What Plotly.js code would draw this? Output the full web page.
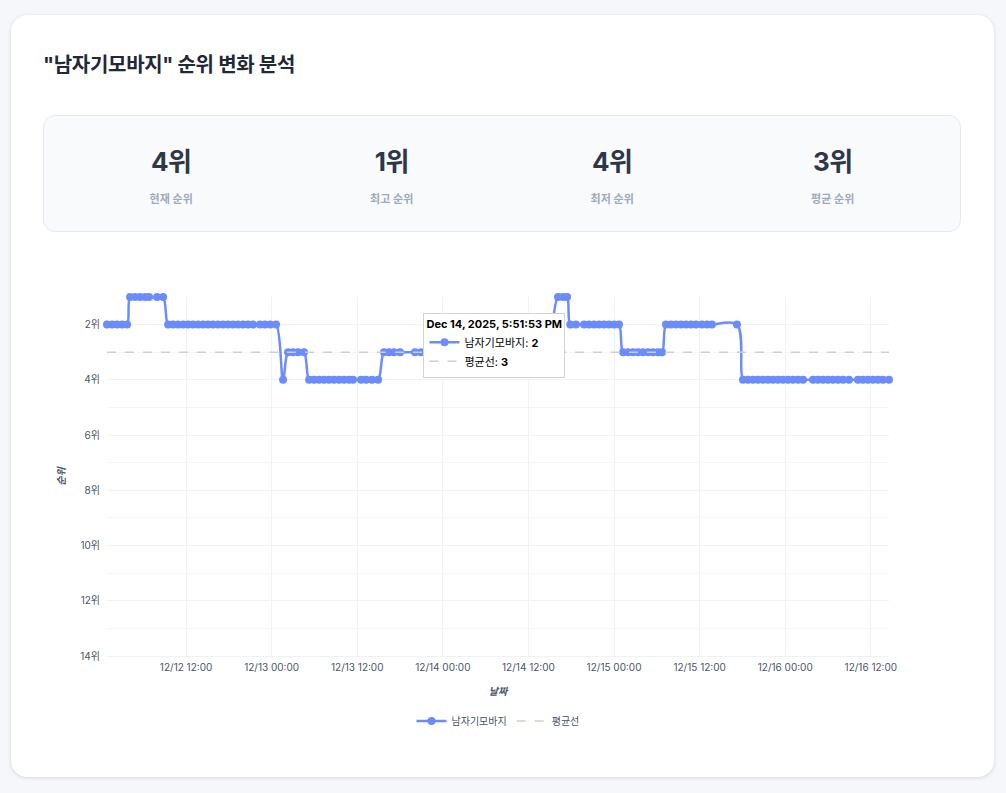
<!DOCTYPE html>
<html lang="ko">
<head>
<meta charset="utf-8">
<script src="https://cdn.plot.ly/plotly-3.0.1.min.js"></script>
<style>
  html, body { margin: 0; padding: 0; }
  body {
    width: 1006px; height: 793px; background: #f5f7fa; position: relative; overflow: hidden;
    font-family: Inter, "Noto Sans CJK KR", "Noto Sans", sans-serif;
  }
  .card {
    position: absolute; left: 11px; top: 15px; width: 983px; height: 762px;
    background: #ffffff; border-radius: 16px;
    box-shadow: 0 1px 4px rgba(0,0,0,0.12), 0 0 1px rgba(0,0,0,0.08);
  }
  h1 {
    position: absolute; left: 32px; top: 34px; margin: 0;
    font-size: 20px; font-weight: 700; color: #1f2937; letter-spacing: -0.3px;
  }
  .stats {
    position: absolute; left: 32px; top: 100px; width: 918px; height: 117px;
    background: #f8fafc; border: 1px solid #e5e9f0; border-radius: 12px;
    display: flex; padding: 0 17px; box-sizing: border-box;
  }
  .stat { flex: 1; text-align: center; }
  .stat .v { margin-top: 29px; font-size: 26px; font-weight: 700; color: #2d3748; line-height: 34px; letter-spacing: -0.5px; }
  .stat .l { margin-top: 11px; font-size: 11px; font-weight: 600; color: #a0aab8; }
  #chart { position: absolute; left: 32px; top: 235px; width: 918px; height: 510px; }
</style>
</head>
<body>
<div class="card">
  <h1>"남자기모바지" 순위 변화 분석</h1>
  <div class="stats">
    <div class="stat"><div class="v" id="s0"></div><div class="l">현재 순위</div></div>
    <div class="stat"><div class="v" id="s1"></div><div class="l">최고 순위</div></div>
    <div class="stat"><div class="v" id="s2"></div><div class="l">최저 순위</div></div>
    <div class="stat"><div class="v" id="s3"></div><div class="l">평균 순위</div></div>
  </div>
  <div id="chart"></div>
</div>
<script>
// ---- data ----
const keyword = "남자기모바지";
const times = [
  "2025-12-12 00:55","2025-12-12 01:38","2025-12-12 02:20","2025-12-12 03:02","2025-12-12 03:44",
  "2025-12-12 04:09","2025-12-12 04:51","2025-12-12 05:33","2025-12-12 06:15","2025-12-12 06:49",
  "2025-12-12 07:56","2025-12-12 08:47",
  "2025-12-12 09:29","2025-12-12 10:11","2025-12-12 10:53","2025-12-12 11:35","2025-12-12 12:17","2025-12-12 12:59",
  "2025-12-12 13:41","2025-12-12 14:23","2025-12-12 15:05","2025-12-12 15:47","2025-12-12 16:29","2025-12-12 17:11",
  "2025-12-12 17:53","2025-12-12 18:35","2025-12-12 19:17","2025-12-12 19:59","2025-12-12 20:41","2025-12-12 21:24",
  "2025-12-12 22:22","2025-12-12 23:04","2025-12-12 23:47","2025-12-13 00:37",
  "2025-12-13 01:36",
  "2025-12-13 02:18","2025-12-13 03:00","2025-12-13 03:42","2025-12-13 04:32",
  "2025-12-13 05:15","2025-12-13 05:57","2025-12-13 06:39","2025-12-13 07:21","2025-12-13 08:03","2025-12-13 08:45",
  "2025-12-13 09:27","2025-12-13 10:09","2025-12-13 10:51","2025-12-13 11:25",
  "2025-12-13 12:32","2025-12-13 13:14","2025-12-13 14:04","2025-12-13 14:55",
  "2025-12-13 15:45","2025-12-13 16:27","2025-12-13 17:09","2025-12-13 18:00",
  "2025-12-13 20:06","2025-12-13 20:57",
  "2025-12-13 21:47","2025-12-13 22:29","2025-12-13 23:11","2025-12-13 23:53","2025-12-14 00:35","2025-12-14 01:17",
  "2025-12-14 01:59","2025-12-14 02:41","2025-12-14 03:24","2025-12-14 04:06","2025-12-14 04:48","2025-12-14 05:30",
  "2025-12-14 06:12","2025-12-14 06:54","2025-12-14 07:36","2025-12-14 08:18","2025-12-14 09:00","2025-12-14 09:42",
  "2025-12-14 10:24","2025-12-14 11:06","2025-12-14 11:48","2025-12-14 12:30","2025-12-14 13:12","2025-12-14 13:54",
  "2025-12-14 14:36",
  "2025-12-14 16:09","2025-12-14 16:51","2025-12-14 17:25",
  "2025-12-14 17:51:53","2025-12-14 18:40",
  "2025-12-14 19:48","2025-12-14 20:30","2025-12-14 21:12","2025-12-14 21:54","2025-12-14 22:36","2025-12-14 23:18",
  "2025-12-15 00:00","2025-12-15 00:42",
  "2025-12-15 01:16","2025-12-15 01:58","2025-12-15 02:40","2025-12-15 03:22","2025-12-15 04:04","2025-12-15 04:46",
  "2025-12-15 05:28","2025-12-15 06:10","2025-12-15 06:44",
  "2025-12-15 07:17","2025-12-15 07:59","2025-12-15 08:41","2025-12-15 09:23","2025-12-15 10:06","2025-12-15 10:48",
  "2025-12-15 11:30","2025-12-15 12:20","2025-12-15 13:02","2025-12-15 13:44",
  "2025-12-15 17:14",
  "2025-12-15 18:05","2025-12-15 18:47","2025-12-15 19:29","2025-12-15 20:11","2025-12-15 20:53","2025-12-15 21:35",
  "2025-12-15 22:17","2025-12-15 22:59","2025-12-15 23:41","2025-12-16 00:23","2025-12-16 01:05","2025-12-16 01:48",
  "2025-12-16 02:30",
  "2025-12-16 03:54","2025-12-16 04:36","2025-12-16 05:18","2025-12-16 06:00","2025-12-16 06:42","2025-12-16 07:24",
  "2025-12-16 08:06","2025-12-16 08:56",
  "2025-12-16 10:12","2025-12-16 10:54","2025-12-16 11:36","2025-12-16 12:18","2025-12-16 13:00","2025-12-16 13:42",
  "2025-12-16 14:33"
];
const ranks = [
  2,2,2,2,2,
  1,1,1,1,1,
  1,1,
  2,2,2,2,2,2,
  2,2,2,2,2,2,
  2,2,2,2,2,2,
  2,2,2,2,
  4,
  3,3,3,3,
  4,4,4,4,4,4,
  4,4,4,4,
  4,4,4,4,
  3,3,3,3,
  3,3,
  3,3,3,3,3,3,
  3,3,3,3,3,3,
  3,3,3,3,3,3,
  3,3,3,3,3,3,
  3,
  1,1,1,
  2,2,
  2,2,2,2,2,2,
  2,2,
  3,3,3,3,3,3,
  3,3,3,
  2,2,2,2,2,2,
  2,2,2,2,
  2,
  4,4,4,4,4,4,
  4,4,4,4,4,4,
  4,
  4,4,4,4,4,4,
  4,4,
  4,4,4,4,4,4,
  4
];
const currentRank = 4, bestRank = 1, worstRank = 4, avgRank = 3;
const yTickVals = [2, 4, 6, 8, 10, 12, 14];
const yTickText = ["2위", "4위", "6위", "8위", "10위", "12위", "14위"];
const xTitle = "날짜", yTitle = "순위", avgName = "평균선";

document.getElementById('s0').textContent = currentRank + '위';
document.getElementById('s1').textContent = bestRank + '위';
document.getElementById('s2').textContent = worstRank + '위';
document.getElementById('s3').textContent = avgRank + '위';

const FONT = 'Inter, "Noto Sans CJK KR", "Noto Sans", sans-serif';
const avgY = times.map(() => avgRank);

const traces = [
  {
    x: times, y: ranks, name: keyword, type: 'scatter', mode: 'lines+markers',
    line: { color: '#6b8cff', width: 2.5, shape: 'spline', smoothing: 1 },
    marker: { color: '#6b8cff', size: 8 },
    cliponaxis: false,
    hovertemplate: keyword + ': <b>%{y:.0f}</b><extra></extra>'
  },
  {
    x: times, y: avgY, name: avgName, type: 'scatter', mode: 'lines',
    line: { color: '#c8d0dc', width: 1.5, dash: 'dash' },
    hovertemplate: avgName + ': <b>%{y:.0f}</b><extra></extra>'
  }
];

const layout = {
  width: 918, height: 510,
  margin: { l: 64, r: 72, t: 47, b: 104 },
  paper_bgcolor: 'rgba(0,0,0,0)', plot_bgcolor: 'rgba(0,0,0,0)',
  font: { family: FONT, size: 10, color: '#4a5568' },
  hovermode: 'x unified',
  hoverlabel: { bgcolor: '#ffffff', bordercolor: '#d0d4da', font: { family: FONT, size: 11, color: '#000' } },
  showlegend: true,
  legend: { orientation: 'h', x: 0.5, xanchor: 'center', y: -0.181, yanchor: 'middle', font: { size: 10, color: '#4a5568' } },
  xaxis: {
    type: 'date', range: [times[0], times[times.length - 1]],
    dtick: 12 * 3600 * 1000, tick0: '2025-12-12 00:00', tickformat: '%m/%d %H:%M',
    hoverformat: '<b>%b %-d, %Y, %-I:%M:%S %p</b>',
    showgrid: true, gridcolor: '#f0f2f6', zeroline: false,
    showline: true, linecolor: '#eef1f6', ticks: '', ticklabelstandoff: 2,
    tickfont: { size: 10, color: '#4a5568' },
    title: { text: '<b><i>' + xTitle + '</i></b>', font: { size: 10, color: '#4a5568' }, standoff: 15 },
    showspikes: false
  },
  yaxis: {
    range: [14, 1], tickvals: yTickVals, ticktext: yTickText,
    showgrid: true, gridcolor: '#f0f2f6', zeroline: false, showline: false, ticks: '',
    ticklabelstandoff: 6,
    minor: { dtick: 1, tick0: 1, showgrid: true, gridcolor: '#f3f5f8' },
    tickfont: { size: 10, color: '#4a5568' },
    title: { text: '<b><i>' + yTitle + '</i></b>', font: { size: 10, color: '#4a5568' }, standoff: 12 }
  }
};

const gd = document.getElementById('chart');
function placeHover() {
  const layer = gd.querySelector('.hoverlayer');
  if (!layer) return;
  const g = layer.querySelector('g.legend') || layer.querySelector('g');
  if (!g) return;
  const r = g.getBoundingClientRect();
  const dx = 424 - r.left, dy = 313 - r.top;
  const tr = g.getAttribute('transform') || 'translate(0,0)';
  const m = /translate\(\s*([-\d.e]+)[\s,]+([-\d.e]+)\s*\)/.exec(tr);
  const tx = m ? +m[1] : 0, ty = m ? +m[2] : 0;
  g.setAttribute('transform', 'translate(' + (tx + dx) + ',' + (ty + dy) + ')');
}
Plotly.newPlot(gd, traces, layout, { displayModeBar: false, responsive: false }).then(() => {
  try {
    const ms = Date.UTC(2025, 11, 14, 17, 51, 53);
    Plotly.Fx.hover(gd, { xval: ms, yval: 2 }, 'xy');
    placeHover();
  } catch (e) { console.log(e); }
});
</script>
</body>
</html>
